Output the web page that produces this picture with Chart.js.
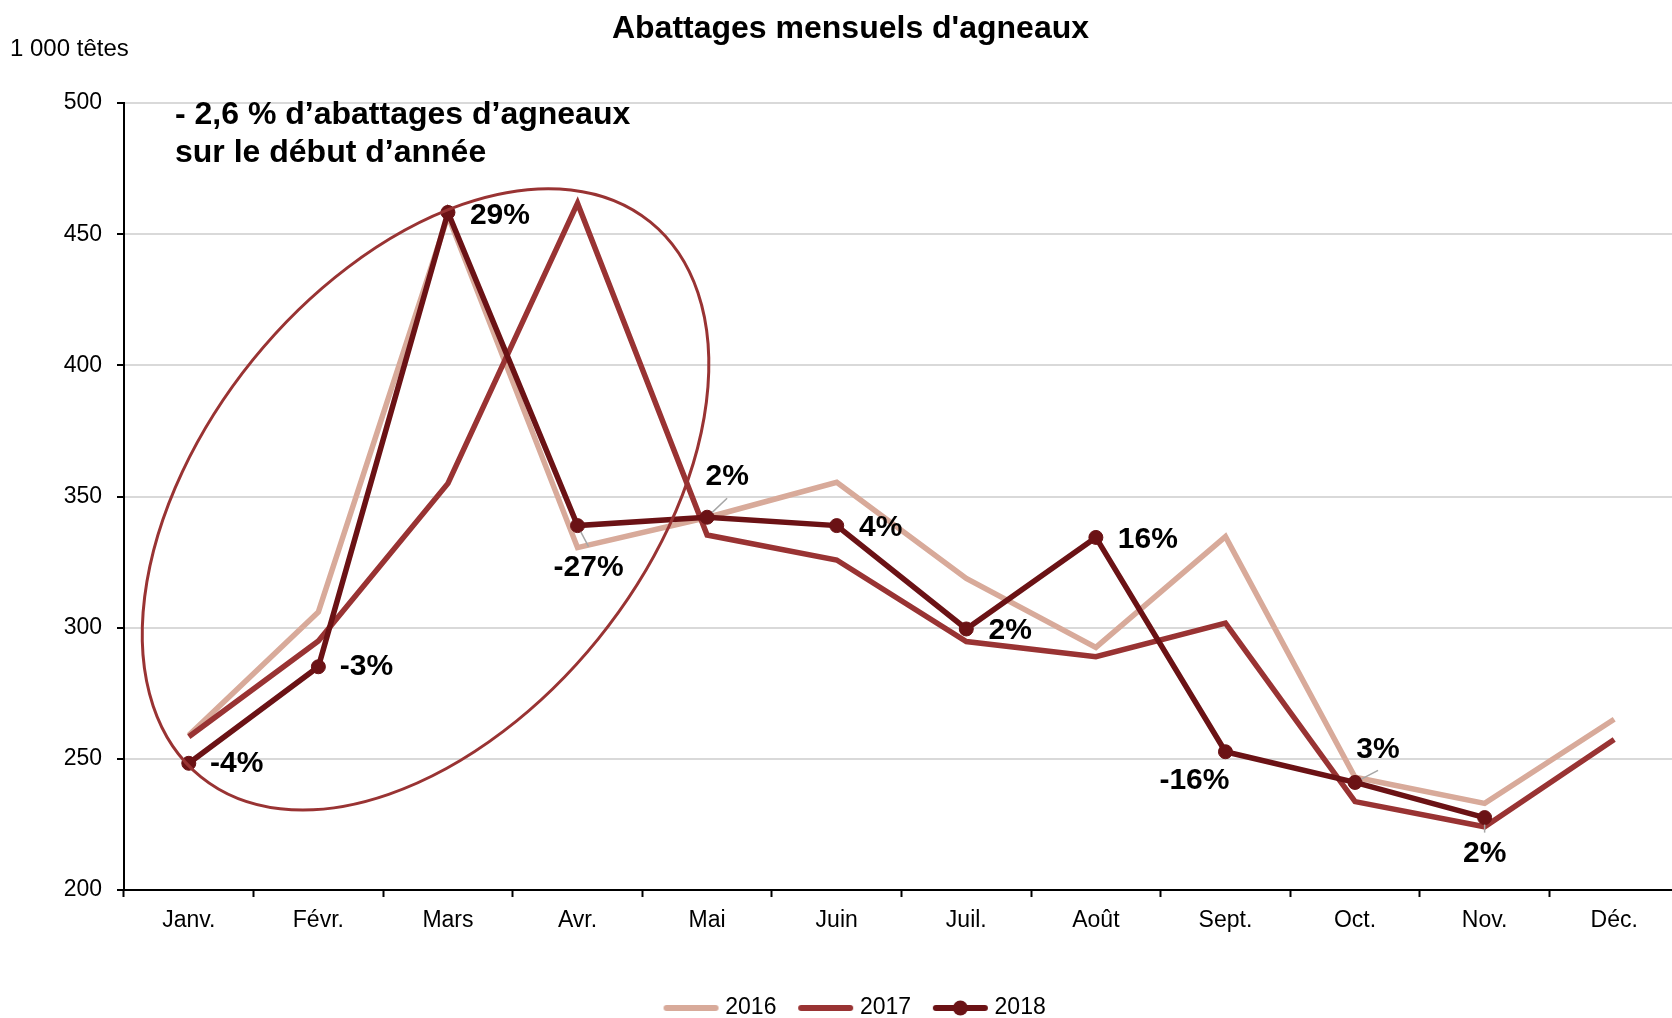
<!DOCTYPE html>
<html lang="fr">
<head>
<meta charset="utf-8">
<title>Abattages mensuels d'agneaux</title>
<script src="https://cdn.jsdelivr.net/npm/chart.js@4.4.1/dist/chart.umd.min.js"></script>
<style>
  html, body { margin: 0; padding: 0; background: #fff; overflow: hidden; }
  #grafica { display: block; }
</style>
</head>
<body>
<canvas id="grafica" width="1687" height="1018"></canvas>
<script>
// données (1 000 têtes)
const mois = ["Janv.", "Févr.", "Mars", "Avr.", "Mai", "Juin", "Juil.", "Août", "Sept.", "Oct.", "Nov.", "Déc."];
const annees = ["2016", "2017", "2018"];
const abattages2016 = [259, 306, 457, 330.5, 342, 355.4, 318.8, 292.5, 334.7, 243, 233, 265.1];
const abattages2017 = [258.4, 294.9, 355, 461.8, 335.3, 325.8, 294.7, 288.9, 301.7, 233.7, 224.1, 257.4];
const abattages2018 = [248.3, 285.1, 458.3, 338.9, 342.1, 338.9, 299.5, 334.4, 252.7, 241, 227.6, null];
const evolution2018 = ["-4%", "-3%", "29%", "-27%", "2%", "4%", "2%", "16%", "-16%", "3%", "2%", null];
const ticksY = [200, 250, 300, 350, 400, 450, 500];

const couleurs = ['#d8aa9a', '#993333', '#6b1215'];
const police = "'Liberation Sans', Arial, sans-serif";

// placement des étiquettes (décalage en px par rapport au point)
const decalages = [[48, 0], [48, 0], [52, 3], [11, 42], [20, -40], [44, 2], [44, 2], [52, 2], [-31, 29], [23, -33], [0, 36]];
const avecTrait = [false, false, false, true, true, false, false, false, false, true, true];

// ellipse qui entoure le début d'année
const ellipse = { centreX: 1.827, centreY: 348.9, rx: 357, ry: 222, angle: -51 };

Chart.defaults.font.family = police;
Chart.defaults.color = '#000';

function imageLegende(couleur, avecPoint) {
    const c = document.createElement('canvas');
    c.width = 100;
    c.height = 20;
    const g = c.getContext('2d');
    g.strokeStyle = couleur;
    g.lineWidth = 6;
    g.lineCap = 'round';
    g.beginPath();
    g.moveTo(32, 10);
    g.lineTo(81, 10);
    g.stroke();
    if (avecPoint) {
        g.fillStyle = couleur;
        g.beginPath();
        g.arc(56.5, 10, 7.5, 0, Math.PI * 2);
        g.fill();
    }
    return c;
}
const imagesLegende = [imageLegende(couleurs[0], false), imageLegende(couleurs[1], false), imageLegende(couleurs[2], true)];

const habillage = {
    id: 'habillage',
    afterDatasetsDraw(chart) {
        const ctx = chart.ctx;
        const x = chart.scales.x, y = chart.scales.y;

        // ellipse
        ctx.save();
        ctx.strokeStyle = couleurs[1];
        ctx.lineWidth = 3;
        ctx.beginPath();
        ctx.ellipse(x.getPixelForValue(ellipse.centreX), y.getPixelForValue(ellipse.centreY),
            ellipse.rx, ellipse.ry, ellipse.angle * Math.PI / 180, 0, Math.PI * 2);
        ctx.stroke();
        ctx.restore();

        // étiquettes d'évolution 2018
        const meta = chart.getDatasetMeta(2);
        ctx.save();
        ctx.font = "bold 30px " + police;
        ctx.textAlign = 'center';
        ctx.textBaseline = 'middle';
        meta.data.forEach((pt, i) => {
            if (!evolution2018[i]) return;
            const [dx, dy] = decalages[i];
            const tx = pt.x + dx, ty = pt.y + dy;
            if (avecTrait[i]) {
                const ex = tx, ey = ty - Math.sign(dy) * 21;
                const len = Math.hypot(ex - pt.x, ey - pt.y);
                ctx.strokeStyle = '#a6a6a6';
                ctx.lineWidth = 1.5;
                ctx.beginPath();
                ctx.moveTo(pt.x + (ex - pt.x) / len * 7, pt.y + (ey - pt.y) / len * 7);
                ctx.lineTo(ex, ey);
                ctx.stroke();
            }
            ctx.fillStyle = '#000';
            ctx.fillText(evolution2018[i], tx, ty);
        });
        ctx.restore();
    },
    afterDraw(chart) {
        const ctx = chart.ctx;
        ctx.save();
        ctx.fillStyle = '#000';
        ctx.textAlign = 'left';
        ctx.textBaseline = 'middle';
        ctx.font = "24px " + police;
        ctx.fillText("1 000 têtes", 10, 49);
        ctx.textBaseline = 'alphabetic';
        ctx.font = "bold 32px " + police;
        const gauche = chart.chartArea.left + 51;
        ctx.fillText("- 2,6 % d’abattages d’agneaux", gauche, 124);
        ctx.fillText("sur le début d’année", gauche, 162);
        ctx.restore();
    }
};

const $grafica = document.querySelector("#grafica");

new Chart($grafica, {
    type: 'line',
    data: {
        labels: mois,
        datasets: [
            { label: annees[0], data: abattages2016, borderColor: couleurs[0], backgroundColor: couleurs[0], borderWidth: 5.5, pointRadius: 0, order: 2 },
            { label: annees[1], data: abattages2017, borderColor: couleurs[1], backgroundColor: couleurs[1], borderWidth: 5.5, pointRadius: 0, order: 1 },
            { label: annees[2], data: abattages2018, borderColor: couleurs[2], backgroundColor: couleurs[2], borderWidth: 5.5, pointRadius: 7, pointBorderWidth: 1, pointBackgroundColor: couleurs[2], order: 0 }
        ]
    },
    options: {
        responsive: false,
        animation: false,
        events: [],
        layout: { padding: { left: 14, right: 0, top: 0, bottom: -11.5 } },
        scales: {
            x: {
                offset: true,
                grid: { offset: true, drawOnChartArea: false, drawTicks: true, tickLength: 7, tickColor: '#000', tickWidth: 2 },
                border: { color: '#000', width: 2 },
                ticks: { font: { size: 23 }, color: '#000', padding: 10, maxRotation: 0, autoSkip: false },
                afterFit(scale) { scale.height = 93; }
            },
            y: {
                min: ticksY[0],
                max: ticksY[ticksY.length - 1],
                afterBuildTicks(scale) { scale.ticks = ticksY.map(v => ({ value: v })); },
                grid: { color: '#d9d9d9', lineWidth: 2, tickLength: 7, tickColor: '#000', tickWidth: 2 },
                border: { color: '#000', width: 2 },
                ticks: { font: { size: 23 }, color: '#000', padding: 15 },
                afterFit(scale) { scale.width = 110; }
            }
        },
        plugins: {
            tooltip: { enabled: false },
            title: {
                display: true,
                text: "Abattages mensuels d'agneaux",
                font: { size: 32, weight: 'bold' },
                color: '#000',
                padding: { top: 10, bottom: 54.6 }
            },
            legend: {
                position: 'bottom',
                labels: {
                    usePointStyle: true,
                    pointStyleWidth: 58.5,
                    padding: 13.5,
                    font: { size: 23 },
                    color: '#000',
                    generateLabels(chart) {
                        const items = Chart.defaults.plugins.legend.labels.generateLabels(chart);
                        items.sort((a, b) => a.datasetIndex - b.datasetIndex);
                        items.forEach(it => { it.pointStyle = imagesLegende[it.datasetIndex]; });
                        return items;
                    }
                }
            }
        }
    },
    plugins: [habillage]
});
</script>
</body>
</html>
